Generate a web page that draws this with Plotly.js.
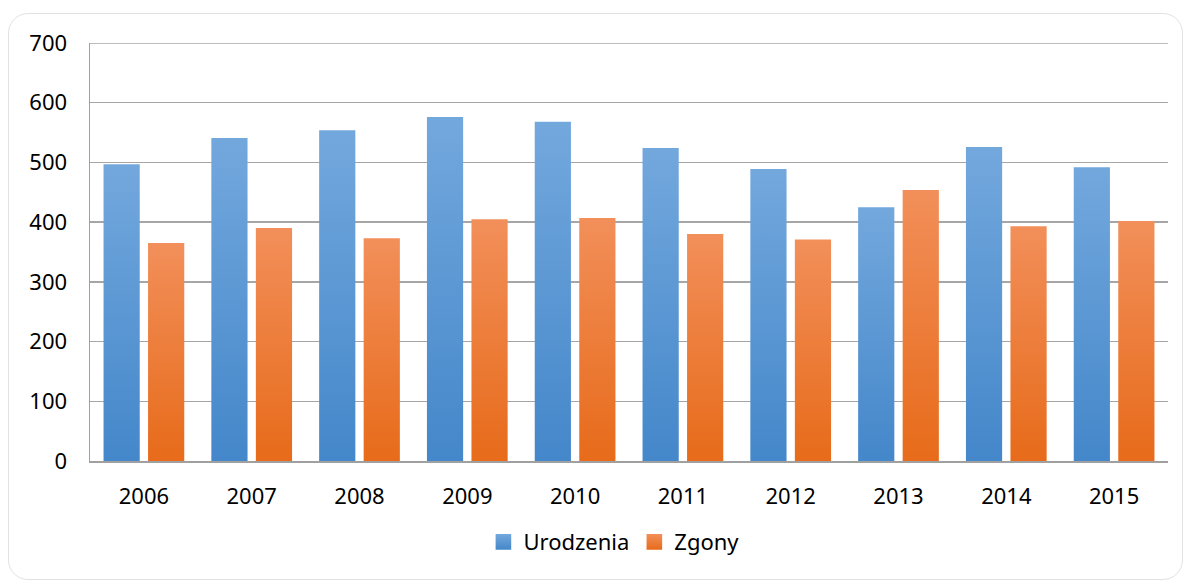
<!DOCTYPE html>
<html>
<head>
<meta charset="utf-8">
<script src="https://cdn.plot.ly/plotly-3.0.1.min.js"></script>
<style>
  html, body { margin: 0; padding: 0; background: #ffffff; }
  #frame { position: absolute; left: 8px; top: 13px; width: 1175px; height: 567px;
           border: 1.5px solid #e2e2e2; border-radius: 20px; box-sizing: border-box; }
  #chart { position: absolute; left: 0; top: 0; width: 1186px; height: 584px; }
</style>
</head>
<body>
<div id="frame"></div>
<div id="chart"></div>
<script>
const years = ["2006","2007","2008","2009","2010","2011","2012","2013","2014","2015"];
const urodzenia = [497, 541, 554, 576, 568, 524, 489, 425, 526, 492];
const zgony = [365, 390, 373, 405, 407, 380, 371, 454, 393, 402];
const seriesNames = ["Urodzenia", "Zgony"];
const yTicks = [0, 100, 200, 300, 400, 500, 600, 700];

const font = "Noto Sans, Open Sans, sans-serif";
const gradients = [
  { id: "gradBlue", top: "#73a8dd", bottom: "#4487ca" },
  { id: "gradOrange", top: "#f28f5a", bottom: "#e76b1a" }
];

const traces = [
  { type: "bar", name: seriesNames[0], x: years, y: urodzenia,
    marker: { color: "#5b9bd8" }, hoverinfo: "x+y" },
  { type: "bar", name: seriesNames[1], x: years, y: zgony,
    marker: { color: "#ef7f36" }, hoverinfo: "x+y" }
];

const layout = {
  width: 1186, height: 584,
  margin: { l: 90, r: 18, t: 43, b: 123 },
  paper_bgcolor: "rgba(0,0,0,0)",
  plot_bgcolor: "rgba(0,0,0,0)",
  barmode: "group",
  bargap: 0.174,
  bargroupgap: 0.187,
  font: { family: font, size: 22, color: "#000000" },
  xaxis: {
    type: "category",
    showline: true, linecolor: "#a0a0a0", linewidth: 1.5,
    ticks: "outside", ticklen: 15, tickcolor: "rgba(0,0,0,0)",
    tickfont: { family: font, size: 22, color: "#000000" },
    showgrid: false, zeroline: false
  },
  yaxis: {
    range: [0, 700],
    tickvals: yTicks,
    ticktext: yTicks.map(String),
    showline: true, linecolor: "#a0a0a0", linewidth: 1.5,
    showgrid: true, gridcolor: "#a6a6a6", gridwidth: 1.5,
    zeroline: false,
    ticks: "outside", ticklen: 17, tickcolor: "rgba(0,0,0,0)",
    tickfont: { family: font, size: 22, color: "#000000" }
  },
  shapes: [
    { type: "line", xref: "paper", yref: "y", x0: 0, x1: 1, y0: yTicks[yTicks.length - 1], y1: yTicks[yTicks.length - 1],
      line: { color: "#a6a6a6", width: 1.5 }, layer: "below" }
  ],
  legend: {
    orientation: "h", x: 0.486, xanchor: "center", y: -0.194, yanchor: "middle",
    font: { family: font, size: 22, color: "#000000" },
    itemwidth: 30, tracegroupgap: 0
  },
  showlegend: true
};

Plotly.newPlot("chart", traces, layout, { displayModeBar: false, staticPlot: true }).then(function (gd) {
  const svgNS = "http://www.w3.org/2000/svg";
  const svg = gd.querySelector("svg.main-svg");
  let defs = svg.querySelector("defs");
  if (!defs) { defs = document.createElementNS(svgNS, "defs"); svg.insertBefore(defs, svg.firstChild); }
  gradients.forEach(function (g) {
    const lg = document.createElementNS(svgNS, "linearGradient");
    lg.setAttribute("id", g.id);
    lg.setAttribute("x1", "0"); lg.setAttribute("y1", "0");
    lg.setAttribute("x2", "0"); lg.setAttribute("y2", "1");
    const s1 = document.createElementNS(svgNS, "stop");
    s1.setAttribute("offset", "0"); s1.setAttribute("stop-color", g.top);
    const s2 = document.createElementNS(svgNS, "stop");
    s2.setAttribute("offset", "1"); s2.setAttribute("stop-color", g.bottom);
    lg.appendChild(s1); lg.appendChild(s2);
    defs.appendChild(lg);
  });
  const barTraces = gd.querySelectorAll(".barlayer .trace");
  barTraces.forEach(function (t, i) {
    t.querySelectorAll("path").forEach(function (p) {
      p.style.fill = "url(#" + gradients[i].id + ")";
    });
  });
  const legendTraces = gd.querySelectorAll(".legend .traces");
  legendTraces.forEach(function (t, i) {
    t.querySelectorAll(".legendpoints path").forEach(function (p) {
      p.style.fill = "url(#" + gradients[i].id + ")";
      p.setAttribute("transform", "translate(20,0) scale(1.3)");
    });
  });
});
</script>
</body>
</html>
